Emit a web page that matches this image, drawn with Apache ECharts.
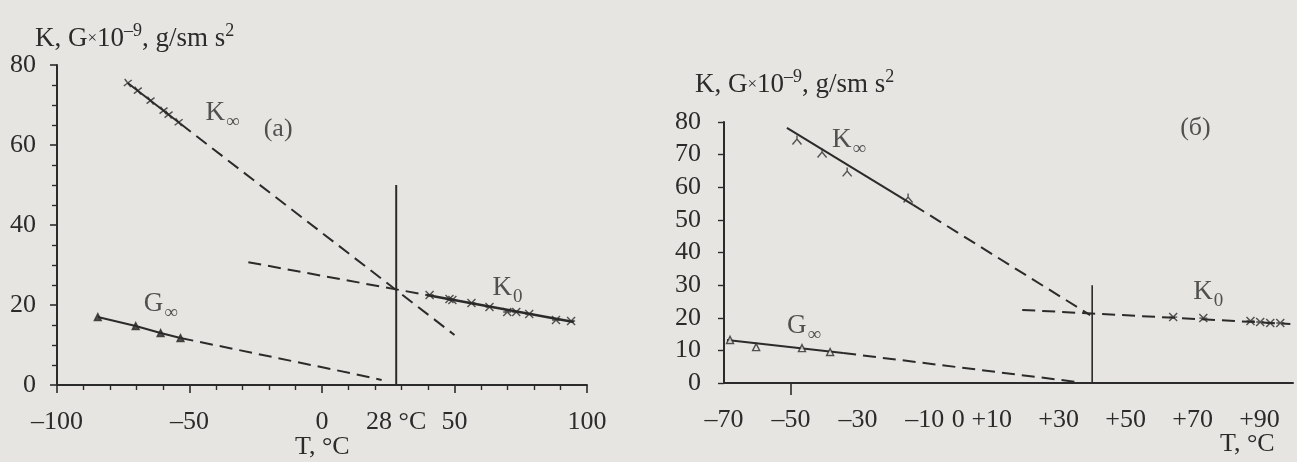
<!DOCTYPE html>
<html>
<head>
<meta charset="utf-8">
<script src="https://cdn.jsdelivr.net/npm/echarts@6/dist/echarts.min.js"></script>
<style>
html,body{margin:0;padding:0;background:#e6e5e1;}
#chart{width:1297px;height:462px;}
</style>
</head>
<body>
<div id="chart"></div>
<script>
// ---------- Panel (a) data: T in °C, modulus ×10^-9 g/(sm s^2) ----------
const aKinfT = [-73.3, -69.5, -64.7, -59.8, -57.9, -54.1];
const aKinfV = [75.5, 73.6, 71.1, 68.6, 67.6, 65.7];
const aKinfSolidT = [-73.3, -53.4];
const aKinfSolidV = [75.5, 65.3];
const aKinfDashT = [-53.4, 50];
const aKinfDashV = [65.3, 12.5];

const aK0T = [40.6, 48.1, 49.2, 56.4, 63.2, 69.9, 73.3, 78.2, 88.3, 94.0];
const aK0V = [22.5, 21.5, 21.25, 20.5, 19.5, 18.25, 18.25, 17.75, 16.25, 16.0];
const aK0SolidT = [39.5, 95];
const aK0SolidV = [22.5, 15.75];
const aK0DashT = [-27.8, 39.5];
const aK0DashV = [30.7, 22.5];

const aGinfT = [-84.6, -70.3, -60.9, -53.4];
const aGinfV = [17, 14.75, 13, 11.75];
const aGinfDashT = [-53.4, 10.5, 22.5];
const aGinfDashV = [11.75, 3, 1.25];

const aVertT = [28, 28];
const aVertV = [0, 50];
const aXLabels = [-100, -50, 0, 28, 50, 100];

// ---------- Panel (б) data ----------
const bKinfT = [-48.2, -40.7, -33.2, -15.0];
const bKinfV = [74.5, 70.5, 64.7, 56.7];
const bKinfSolidT = [-51.2, -13.5];
const bKinfSolidV = [78.2, 54.6];
const bKinfDashT = [-13.5, 39.4];
const bKinfDashV = [54.6, 20.8];

const bK0T = [64.2, 73.2, 87.3, 90.2, 93.2, 96.2];
const bK0V = [20.2, 19.9, 19.0, 18.7, 18.4, 18.4];
const bK0DashT = [19.1, 40, 99.2];
const bK0DashV = [22.4, 21.3, 18.1];

const bGinfT = [-68.2, -60.4, -46.7, -38.3];
const bGinfV = [13.2, 11.0, 10.7, 9.5];
const bGinfSolidT = [-69.1, -34.4];
const bGinfSolidV = [13.2, 9.2];
const bGinfDashT = [-34.4, 6.5, 35.5];
const bGinfDashV = [9.2, 4.0, 0.3];

const bVertT = [40, 40];
const bVertV = [0, 30];
const bXLabels = [-70, -50, -30, -10, 0, 10, 30, 50, 70, 90];

// ---------- helpers ----------
const zip = (xs, ys) => xs.map((x, i) => [x, ys[i]]);
const FONT = '"Liberation Serif", "DejaVu Serif", serif';
const INK = '#2b2b2b';
const BG = '#e6e5e1';
const DASH = [13, 7];

function line(xi, xs, ys, dashed, width) {
  return {
    type: 'line', xAxisIndex: xi, yAxisIndex: xi, data: zip(xs, ys),
    showSymbol: false, symbol: 'none', silent: true, clip: false,
    lineStyle: { color: INK, width: width || 2, type: dashed ? DASH : 'solid' },
    z: 3
  };
}
function marks(xi, xs, ys, symbol, size, rotate, fill) {
  return {
    type: 'scatter', xAxisIndex: xi, yAxisIndex: xi, data: zip(xs, ys),
    symbol: symbol, symbolSize: size, symbolRotate: rotate || 0, silent: true, clip: false,
    itemStyle: { color: fill || 'rgba(0,0,0,0)', borderColor: INK, borderWidth: 1.4 },
    z: 4
  };
}
const rich = {
  k: { fontFamily: FONT, fontSize: 27, color: INK },
  s: { fontFamily: FONT, fontSize: 19, color: INK, padding: [18, 0, 0, 1] },
  p: { fontFamily: FONT, fontSize: 26, color: INK }
};
function note(xi, x, y, text) {
  return {
    type: 'scatter', xAxisIndex: xi, yAxisIndex: xi, symbolSize: 0, silent: true, clip: false,
    data: [[x, y]],
    label: { show: true, position: 'right', distance: 0, formatter: text, rich: rich },
    z: 5
  };
}
const CROSS = 'path://M5,0L5,10M0,5L10,5';
const XCROSS = 'path://M0,0L10,10M0,10L10,0M0,5L10,5';
const YMARK = 'path://M0,10L5,4L10,10M5,4L5,0';

const axisText = { fontFamily: FONT, fontSize: 26, color: INK };
const axisLine = { show: true, onZero: false, lineStyle: { color: INK, width: 2 } };
const titleRich = {
  m: { fontFamily: FONT, fontSize: 27, fill: INK },
  x: { fontFamily: FONT, fontSize: 17, fill: INK },
  u: { fontFamily: FONT, fontSize: 18, fill: INK, padding: [0, 0, 15, 0] }
};
const TITLE = '{m|K, G}{x|×}{m|10}{u|–9}{m|, g/sm s}{u|2}';

const chart = echarts.init(document.getElementById('chart'), null, { renderer: 'canvas' });
chart.setOption({
  backgroundColor: BG,
  animation: false,
  grid: [
    { left: 57, top: 65, width: 530, height: 320 },
    { left: 724, top: 122, width: 569, height: 261 }
  ],
  xAxis: [
    {
      type: 'value', gridIndex: 0, min: -100, max: 100, interval: 50,
      axisLine: axisLine, splitLine: { show: false },
      axisTick: { show: true, length: 8, lineStyle: { color: INK, width: 1.6 } },
      minorTick: { show: true, splitNumber: 5, length: 5, lineStyle: { color: INK, width: 1.4 } },
      axisLabel: Object.assign({}, axisText, {
        margin: 24, customValues: aXLabels,
        formatter: v => v === 28 ? '28 °C' : String(v).replace('-', '\u2013')
      })
    },
    {
      type: 'value', gridIndex: 1, min: -70, max: 100, interval: 10,
      axisLine: axisLine, splitLine: { show: false },
      axisTick: { show: true, length: 12, customValues: [-50], lineStyle: { color: INK, width: 1.6 } },
      axisLabel: Object.assign({}, axisText, {
        margin: 24, customValues: bXLabels,
        formatter: v => v > 0 ? '+' + v : String(v).replace('-', '\u2013')
      })
    }
  ],
  yAxis: [
    {
      type: 'value', gridIndex: 0, min: 0, max: 80, interval: 20,
      axisLine: axisLine, splitLine: { show: false },
      axisTick: { show: true, length: 7, lineStyle: { color: INK, width: 1.6 } },
      minorTick: { show: true, splitNumber: 4, length: 5, lineStyle: { color: INK, width: 1.4 } },
      axisLabel: Object.assign({}, axisText, { margin: 21 })
    },
    {
      type: 'value', gridIndex: 1, min: 0, max: 80, interval: 10,
      axisLine: axisLine, splitLine: { show: false },
      axisTick: { show: true, length: 6, lineStyle: { color: INK, width: 1.4 } },
      axisLabel: Object.assign({}, axisText, { margin: 23 })
    }
  ],
  graphic: [
    { type: 'text', left: 35, top: 22, silent: true, style: { text: TITLE, rich: titleRich } },
    { type: 'text', left: 695, top: 68, silent: true, style: { text: TITLE, rich: titleRich } },
    { type: 'text', left: 295, top: 434, silent: true, style: { text: 'T, °C', font: '26px ' + FONT, fill: INK } },
    { type: 'text', left: 1220, top: 431, silent: true, style: { text: 'T, °C', font: '26px ' + FONT, fill: INK } }
  ],
  series: [
    // panel (a)
    line(0, aKinfSolidT, aKinfSolidV, false),
    line(0, aKinfDashT, aKinfDashV, true),
    marks(0, aKinfT, aKinfV, CROSS, 10, 37),
    line(0, aK0DashT, aK0DashV, true),
    line(0, aK0SolidT, aK0SolidV, false, 2.4),
    marks(0, aK0T, aK0V, XCROSS, 8, 0),
    line(0, aGinfT, aGinfV, false),
    line(0, aGinfDashT, aGinfDashV, true),
    marks(0, aGinfT, aGinfV, 'triangle', 7, 0, INK),
    line(0, aVertT, aVertV, false, 2),
    note(0, -44, 68, '{k|K}{s|∞}'),
    note(0, -22, 64, '{p|(a)}'),
    note(0, 64.3, 24.3, '{k|K}{s|0}'),
    note(0, -67.3, 20.2, '{k|G}{s|∞}'),
    // panel (б)
    line(1, bKinfSolidT, bKinfSolidV, false),
    line(1, bKinfDashT, bKinfDashV, true),
    marks(1, bKinfT, bKinfV, YMARK, 9, 0),
    line(1, bK0DashT, bK0DashV, true),
    marks(1, bK0T, bK0V, XCROSS, 8, 0),
    line(1, bGinfSolidT, bGinfSolidV, false),
    line(1, bGinfDashT, bGinfDashV, true),
    marks(1, bGinfT, bGinfV, 'triangle', 7, 0, BG),
    line(1, bVertT, bVertV, false, 1.6),
    note(1, -37.7, 74.5, '{k|K}{s|∞}'),
    note(1, 66.3, 78.2, '{p|(б)}'),
    note(1, 70.2, 27.9, '{k|K}{s|0}'),
    note(1, -51.2, 17.5, '{k|G}{s|∞}')
  ]
});
</script>
</body>
</html>
